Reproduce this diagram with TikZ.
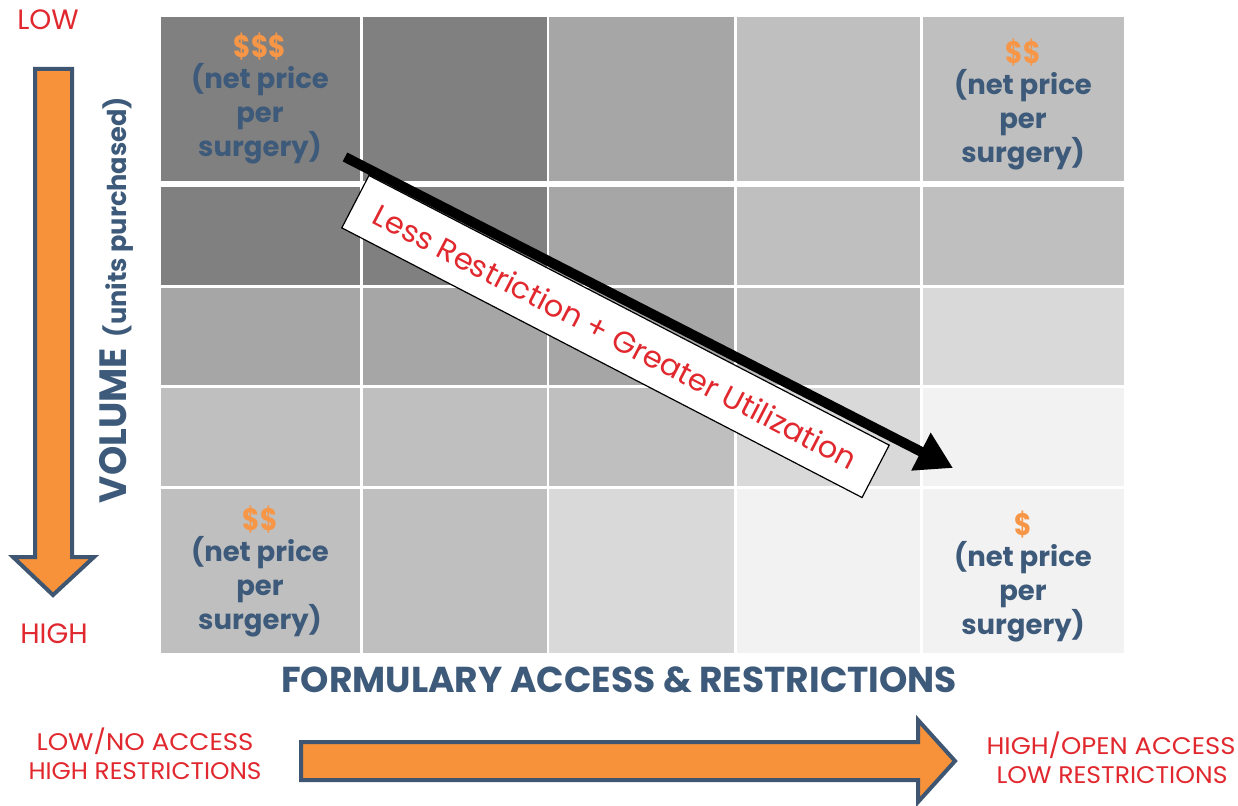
\documentclass[tikz,border=0pt]{standalone}
\usepackage{fontspec}
\usepackage{graphicx}
\setmainfont{Poppins}
\usetikzlibrary{arrows.meta}
\definecolor{dblue}{HTML}{3D5A7A}
\definecolor{rred}{HTML}{E0282E}
\definecolor{orng}{HTML}{F79646}
\definecolor{arrfill}{HTML}{F7923A}
\definecolor{arredge}{HTML}{3F5673}
\definecolor{gA}{HTML}{808080}
\definecolor{gB}{HTML}{A6A6A6}
\definecolor{gC}{HTML}{BFBFBF}
\definecolor{gD}{HTML}{D9D9D9}
\definecolor{gE}{HTML}{F2F2F2}
\newlength\fitlen
\newcommand\fitx[2]{\settowidth\fitlen{#2}\pgfmathsetmacro\fitfac{#1/\fitlen}\scalebox{\fitfac}[1]{#2}}
\newcommand\dollars[1]{{\color{orng}\scalebox{0.85}[1]{\fontsize{31}{34}\selectfont #1}}}
\tikzset{
  celltxt/.style={align=center, text=dblue, inner sep=0pt, font=\bfseries\fontsize{27.5}{34}\selectfont},
  redlbl/.style={text=rred, inner sep=0pt, font=\fontsize{28}{28}\selectfont},
  sidelbl/.style={text=rred, inner sep=0pt, font=\fontsize{24}{24}\selectfont},
  bigarrow/.style={fill=arrfill, draw=arredge, line width=4pt, line join=miter},
  diaglbl/.style={draw=black, fill=white, line width=1.2pt, minimum width=586pt, minimum height=59pt, inner sep=0pt, rotate=-27.4, text=rred, font=\fontsize{30}{30}\selectfont},
}
\begin{document}
\begin{tikzpicture}[x=1pt,y=-1pt]
\useasboundingbox (0,0) rectangle (1238,805);
% grid
\fill[gA] (161,17) rectangle (360,181);
\fill[gA] (363,17) rectangle (547,181);
\fill[gB] (549,17) rectangle (734,181);
\fill[gC] (737,17) rectangle (920,181);
\fill[gC] (923,17) rectangle (1124,181);
\fill[gA] (161,187) rectangle (360,285);
\fill[gA] (363,187) rectangle (547,285);
\fill[gB] (549,187) rectangle (734,285);
\fill[gC] (737,187) rectangle (920,285);
\fill[gC] (923,187) rectangle (1124,285);
\fill[gB] (161,288) rectangle (360,385);
\fill[gB] (363,288) rectangle (547,385);
\fill[gB] (549,288) rectangle (734,385);
\fill[gC] (737,288) rectangle (920,385);
\fill[gD] (923,288) rectangle (1124,385);
\fill[gC] (161,388) rectangle (360,486);
\fill[gC] (363,388) rectangle (547,486);
\fill[gC] (549,388) rectangle (734,486);
\fill[gD] (737,388) rectangle (920,486);
\fill[gE] (923,388) rectangle (1124,486);
\fill[gC] (161,489) rectangle (360,653);
\fill[gC] (363,489) rectangle (547,653);
\fill[gD] (549,489) rectangle (734,653);
\fill[gE] (737,489) rectangle (920,653);
\fill[gE] (923,489) rectangle (1124,653);
% cell texts
\node[celltxt] (c11) at (260,99) {\dollars{\$\$\$}\\[-3pt](net price\\per\\surgery)};
\node[celltxt] (c15) at (1023,105) {\dollars{\$\$}\\[-3pt](net price\\per\\surgery)};
\node[celltxt] (c51) at (260,571) {\dollars{\$\$}\\[-3pt](net price\\per\\surgery)};
\node[celltxt] (c55) at (1023,576) {\dollars{\$}\\[-3pt](net price\\per\\surgery)};
% side labels
\node[redlbl] (low) at (48,20) {LOW};
\node[redlbl] (high) at (54,634) {HIGH};
\draw[bigarrow] (35,69) -- (72,69) -- (72,557) -- (94,557) -- (53,595) -- (13,557) -- (35,557) -- cycle;
\node[rotate=90, anchor=base, inner sep=0pt, text=dblue, font=\bfseries] (vol) at (126,300)
  {\fontsize{38}{38}\selectfont\fitx{155}{VOLUME}\hspace{11pt}\fontsize{26}{26}\selectfont\fitx{240}{(units purchased)}};
% bottom
\node[inner sep=0pt, text=dblue, font=\bfseries\fontsize{36}{36}\selectfont] (form) at (619,680) {\fitx{676}{FORMULARY ACCESS \& RESTRICTIONS}};
\node[sidelbl] (lna) at (145,741) {\fitx{217}{LOW/NO ACCESS}};
\node[sidelbl] (hr) at (145,771) {\fitx{233}{HIGH RESTRICTIONS}};
\node[sidelbl] (hoa) at (1111,745) {\fitx{249}{HIGH/OPEN ACCESS}};
\node[sidelbl] (lr) at (1112,775) {\fitx{231}{LOW RESTRICTIONS}};
\draw[bigarrow] (301,742) -- (918,742) -- (918,720) -- (955,761) -- (918,802) -- (918,780) -- (301,780) -- cycle;
% diagonal label and arrow
\node[diaglbl] (lbl) at (615.5,336.5) {\fitx{540}{Less Restriction + Greater Utilization}};
\coordinate (as) at (345,157);
\coordinate (ae) at (953,468);
\draw[line width=10pt, -{Triangle[length=36pt,width=40pt]}] (as) -- (ae);
\end{tikzpicture}
\end{document}
